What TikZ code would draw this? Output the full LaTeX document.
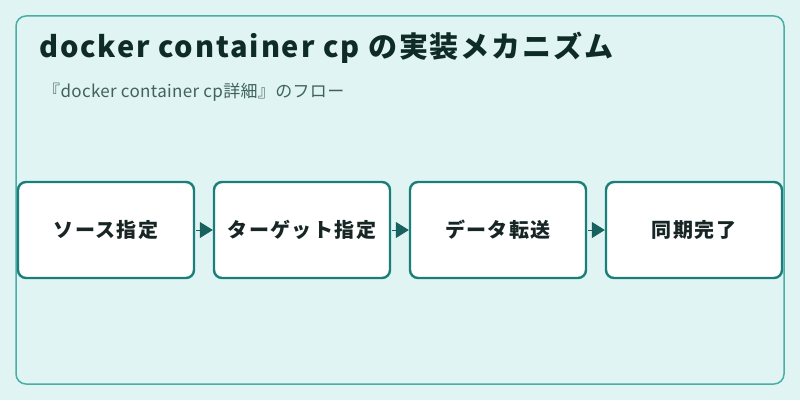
\documentclass[tikz,border=0pt]{standalone}
\usepackage{fontspec}
\setmainfont{Noto Sans CJK JP}
\usepackage{xcolor}
\usepackage{tikz}
\usetikzlibrary{graphs,arrows.meta}

\definecolor{pagebg}{HTML}{E0F4F3}
\definecolor{framec}{HTML}{4AADA8}
\definecolor{boxline}{HTML}{1A7F7A}
\definecolor{tipc}{HTML}{17625E}
\definecolor{titlec}{HTML}{0F2B28}
\definecolor{subc}{HTML}{3F625E}
\definecolor{labelc}{HTML}{172524}

\begin{document}
\begin{tikzpicture}[x=1pt, y=1pt,
    step box/.style={rectangle, draw=boxline, line width=2.4pt, fill=white, font=\fontsize{20}{24}\selectfont\bfseries\addfontfeature{LetterSpace=7}, text=labelc, text centered, rounded corners=8pt, node distance=196pt, minimum height=96pt, minimum width=176pt}]
    \fill[pagebg] (0,0) rectangle (800,400);
    \draw[framec, line width=1.5pt, rounded corners=10pt] (16,16) rectangle (784,384);
    \node[anchor=base west, font=\fontsize{29}{34}\selectfont\bfseries\addfontfeature{LetterSpace=6.5}, text=titlec, inner sep=0pt] (Title) at (39,343) {docker container cp の実装メカニズム};
    \node[anchor=base west, font=\fontsize{17}{20}\selectfont\addfontfeature{LetterSpace=2}, text=subc, inner sep=0pt] (Subtitle) at (43,303) {『docker container cp詳細』のフロー};

    \node [step box] (Source) at (106,170) {ソース指定};
    \node [step box, right of=Source] (Target) {ターゲット指定};
    \node [step box, right of=Target] (Transfer) {データ転送};
    \node [step box, right of=Transfer] (Sync) {同期完了};

    \graph [edges={tipc, line width=1pt, -{Triangle[length=13pt, width=16pt]}, shorten <=1pt}] {
      (Source) -> (Target) -> (Transfer) -> (Sync);
    };
  \end{tikzpicture}
\end{document}
